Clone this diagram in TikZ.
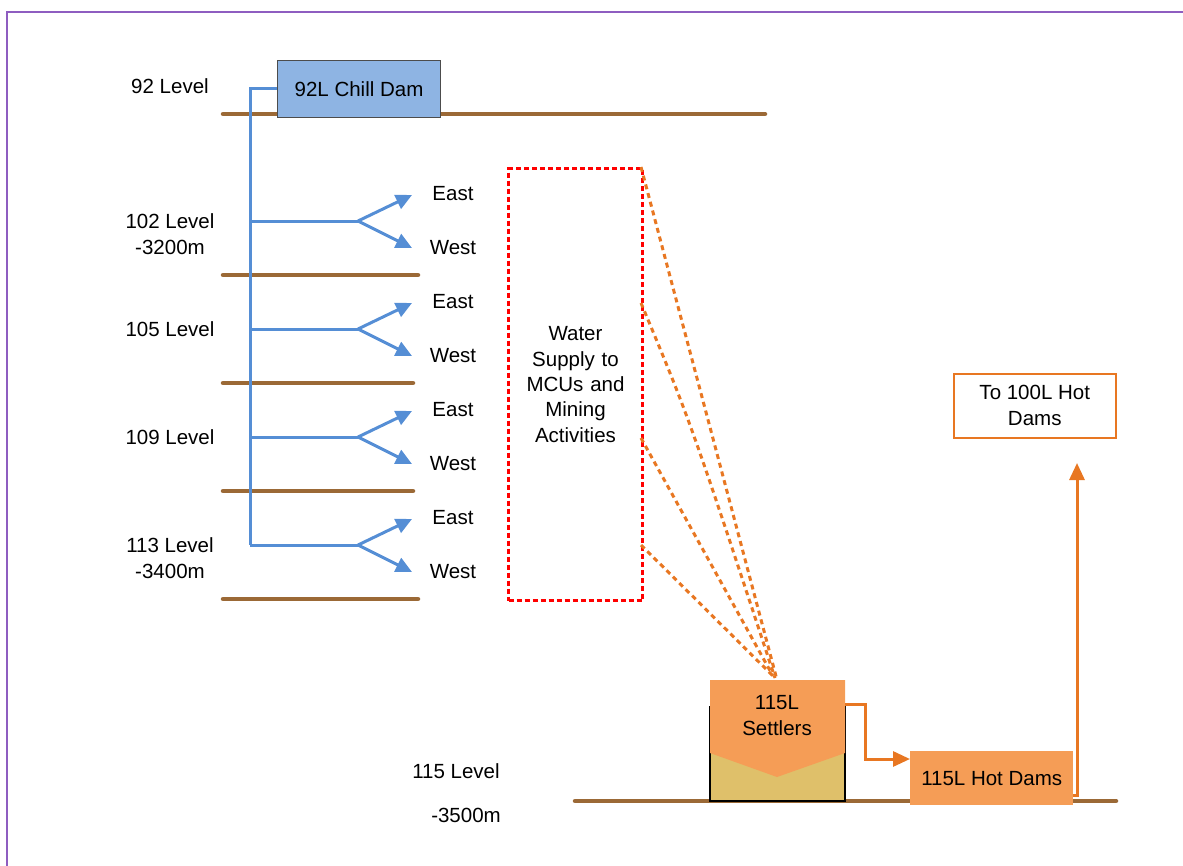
\documentclass[tikz,border=0pt]{standalone}
\usepackage{fontspec}
\setmainfont{Liberation Sans}
\usetikzlibrary{arrows.meta,calc}
\definecolor{bluel}{HTML}{558ED5}
\definecolor{chill}{HTML}{8EB4E3}
\definecolor{brownl}{HTML}{9B6936}
\definecolor{orfill}{HTML}{F59D56}
\definecolor{tan}{HTML}{DFC06A}
\definecolor{orline}{HTML}{E87722}
\definecolor{purp}{HTML}{8E5DC0}
\tikzset{
  lbl/.style={font=\fontsize{20.5}{26}\selectfont, align=center, inner sep=0},
  ground/.style={brownl, line width=4.5pt, line cap=round},
  pipe/.style={bluel, line width=3pt},
  parrow/.style={pipe, -{Triangle[length=16pt,width=15pt]}},
  odash/.style={orline, line width=3pt, dash pattern=on 5pt off 4pt},
  oarrow/.style={orline, line width=3pt, -{Triangle[length=17pt,width=15pt]}},
}
\begin{document}
\begin{tikzpicture}[x=1pt,y=-1pt]
\useasboundingbox (0,0) rectangle (1183,865);
% border
\draw[purp, line width=2.2pt] (7,870) -- (7,12) -- (1190,12);
% ground lines
\draw[ground] (223,114) -- (765,114);
\draw[ground] (223,275) -- (418,275);
\draw[ground] (223,383) -- (413,383);
\draw[ground] (223,491) -- (413,491);
\draw[ground] (223,599) -- (418,599);
\draw[ground] (575,801) -- (1116,801);
% chill dam
\node[draw=black!70, line width=1pt, fill=chill, minimum width=163pt, minimum height=57pt, lbl, anchor=north west] (chill) at (277,60) {92L Chill Dam};
% levels
\node[lbl] (l92) at (170,86) {92 Level};
\node[lbl] (l102) at (170,234) {102 Level\\-3200m};
\node[lbl] (l105) at (170,329) {105 Level};
\node[lbl] (l109) at (170,437) {109 Level};
\node[lbl] (l113) at (170,558) {113 Level\\-3400m};
\node[lbl] (l115a) at (456,771) {115 Level};
\node[lbl] (l115b) at (466,815) {-3500m};
% blue pipes
\coordinate (top) at (250,88);
\coordinate (bot) at (250,545);
\draw[pipe] (chill.west |- top) -- (top) -- (bot);
\foreach \i/\y in {a/221,b/329,c/437,d/545}{
  \coordinate (s\i) at (250,\y);
  \coordinate (j\i) at (358,\y);
  \coordinate (e\i) at (412,\y-26);
  \coordinate (w\i) at (412,\y+27);
  \draw[pipe] (s\i) -- (j\i);
  \draw[parrow] (j\i) -- (e\i);
  \draw[parrow] (j\i) -- (w\i);
  \node[lbl] (east\i) at (453,\y-27) {East};
  \node[lbl] (west\i) at (453,\y+27) {West};
}
% water supply box
\node[draw=red, line width=3pt, dash pattern=on 5pt off 3pt, minimum width=134pt, minimum height=432pt, anchor=north west, lbl] (ws) at (507,167) {};
\node[lbl, text width=130pt, font=\fontsize{20.5}{25.3}\selectfont] (wst) at (ws.center) {Water\\Supply to\\MCUs and\\Mining\\Activities};
% settlers
\fill[tan, draw=black, line width=1.5pt] (710,707) rectangle (845,801);
\fill[orfill] (710,680) -- (845,680) -- (845,753) -- (777,777) -- (710,753) -- cycle;
\node[lbl] (set) at (777,716) {115L\\Settlers};
\coordinate (settop) at (777,680);
% dashed lines to settlers
\coordinate (d1) at (641,167);
\coordinate (d2) at (641,303);
\coordinate (d3) at (641,438);
\coordinate (d4) at (641,545);
\draw[odash] (d1) -- (777,680);
\draw[odash] (d2) .. controls (690,420) .. (775,678);
\draw[odash] (d3) -- (773,676);
\draw[odash] (d4) -- (775,678);
% hot dams
\node[fill=orfill, minimum width=163pt, minimum height=54pt, anchor=north west, lbl] (hot) at (910,751) {115L Hot Dams};
\draw[oarrow] (845,704) -- (865,704) -- (865,759) -- (hot.west |- 0,759);
% to 100L
\node[draw=orline, line width=1.5pt, fill=white, minimum width=162pt, minimum height=64pt, anchor=north west, lbl] (to100) at (953,373) {To 100L Hot\\Dams};
\coordinate (tip) at (1077,463);
\draw[oarrow] (hot.east |- 0,795) -- (1077,795) -- (tip);
\end{tikzpicture}
\end{document}
